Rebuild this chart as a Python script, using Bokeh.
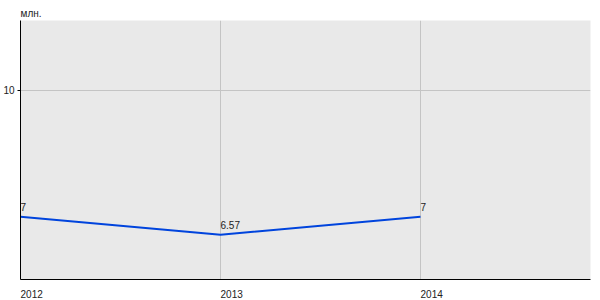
from bokeh.plotting import figure
from bokeh.models import ColumnDataSource, FixedTicker, Range1d, LinearAxis
from bokeh.core.properties import value
from bokeh.embed import file_html
from bokeh.resources import INLINE

years = [2012, 2013, 2014]
values = [7, 6.57, 7]
labels = ["7", "6.57", "7"]
y_ticks = [10]
unit = "млн."

FONT = "Liberation Sans"
X_MIN, X_MAX = 2012, 2014.85
Y_MIN, Y_MAX = 5.51, 11.65
# shift so that the year labels start at their tick (left aligned)
LABEL_SHIFT = 0.056

src = ColumnDataSource(dict(x=years, y=values, lab=labels))

p = figure(width=600, height=300, output_backend="svg", toolbar_location=None,
           x_range=Range1d(X_MIN, X_MAX), y_range=Range1d(Y_MIN, Y_MAX),
           x_axis_location=None,
           min_border_left=20, min_border_right=10, min_border_top=20, min_border_bottom=20,
           title=unit)
p.extra_x_ranges = {"lab": Range1d(X_MIN - LABEL_SHIFT, X_MAX - LABEL_SHIFT)}
p.border_fill_color = "white"
p.outline_line_color = None
p.background_fill_color = "#e9e9e9"

p.title.text_font = FONT
p.title.text_font_size = "10px"
p.title.text_font_style = "normal"
p.title.text_color = "#222222"
p.title.offset = 0
p.title.standoff = 4

xaxis = LinearAxis(x_range_name="lab", ticker=FixedTicker(ticks=years))
p.add_layout(xaxis, "below")
p.yaxis.ticker = FixedTicker(ticks=y_ticks)
for ax in (xaxis, p.yaxis[0]):
    ax.axis_line_color = "black"
    ax.axis_line_width = 1
    ax.minor_tick_line_color = None
    ax.major_label_text_font = FONT
    ax.major_label_text_font_size = "10px"
    ax.major_label_text_color = "#222222"
xaxis.major_tick_line_color = None
xaxis.major_label_standoff = 4
p.yaxis.major_tick_out = 3
p.yaxis.major_tick_in = 0
p.yaxis.major_tick_line_color = "black"
p.yaxis.major_label_standoff = 3

for g in p.grid:
    if g.dimension == 0:
        g.ticker = FixedTicker(ticks=years)
        g.minor_grid_line_color = None
    g.grid_line_color = "#c4c4c4"

p.line("x", "y", source=src, line_color="#0044dd", line_width=2)
p.text("x", "y", text="lab", source=src, text_font=value(FONT), text_font_size="10px",
       text_align="left", text_baseline="bottom", y_offset=-6, text_color="#222222")

open("out.html", "w").write(file_html(p, INLINE))
